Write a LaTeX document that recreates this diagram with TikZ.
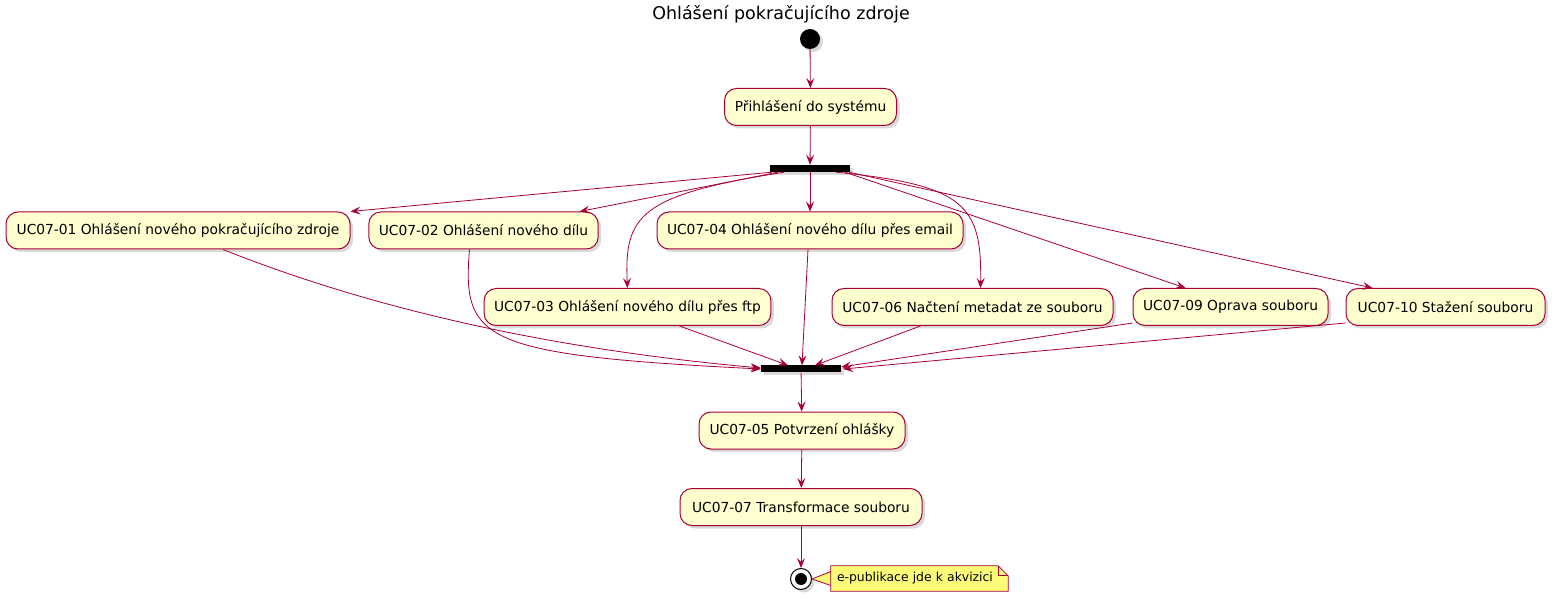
\documentclass[tikz,border=0pt]{standalone}
\usepackage{fontspec}
\setmainfont{DejaVu Sans}
\usetikzlibrary{arrows.meta, calc, shadows, backgrounds}
\definecolor{umlred}{HTML}{A80036}
\definecolor{actfill}{HTML}{FEFECE}
\definecolor{notefill}{HTML}{FBFB77}
\tikzset{
  action/.style={rectangle, rounded corners=12pt, draw=umlred, line width=1pt,
    fill=actfill, minimum height=37pt, inner xsep=10pt,
    font=\fontsize{13.8}{16}\selectfont,
    drop shadow={shadow xshift=3pt, shadow yshift=-3pt, opacity=0.3}},
  syncbar/.style={rectangle, fill=black, minimum width=80pt, minimum height=7pt,
    inner sep=0pt, drop shadow={shadow xshift=3pt, shadow yshift=-3pt, opacity=0.3}},
  initial/.style={circle, fill=black, minimum size=20pt, inner sep=0pt,
    drop shadow={shadow xshift=3pt, shadow yshift=-3pt, opacity=0.3}},
  final/.style={circle, draw=black, line width=1pt, fill=white, minimum size=21pt,
    inner sep=0pt, path picture={\fill[black] (path picture bounding box.center) circle (6pt);},
    drop shadow={shadow xshift=3pt, shadow yshift=-3pt, opacity=0.3}},
  flow/.style={-{Stealth[length=10pt, width=8pt, inset=4pt]}, draw=umlred, line width=0.8pt},
  notebox/.style={rectangle, text width=165pt, align=left, inner xsep=6pt,
    minimum height=25pt, inner ysep=0pt, font=\fontsize{12.4}{14}\selectfont},
  notefold/.style={draw=umlred, fill=notefill, line width=0.8pt}
}
\begin{document}
\begin{tikzpicture}[x=1pt, y=1pt]
\useasboundingbox (0,0) rectangle (1562,600);

% Title
\node[font=\fontsize{17.5}{20}\selectfont] (title) at (781,586) {Ohlášení pokračujícího zdroje};

% Start, login and fork
\node[initial] (start) at (810,561) {};
\node[action, minimum width=172pt] (login) at (810.5,493) {Přihlášení do systému};
\node[syncbar] (fork) at (810,431.5) {};

% Use cases, first row
\node[action, minimum width=344pt] (uc01) at (178,369.5) {UC07-01 Ohlášení nového pokračujícího zdroje};
\node[action, minimum width=227pt] (uc02) at (483.5,369.5) {UC07-02 Ohlášení nového dílu};
\node[action, minimum width=304pt] (uc04) at (810,369.5) {UC07-04 Ohlášení nového dílu přes email};

% Use cases, second row
\node[action, minimum width=285pt] (uc03) at (627.5,293) {UC07-03 Ohlášení nového dílu přes ftp};
\node[action, minimum width=281pt] (uc06) at (972.5,293) {UC07-06 Načtení metadat ze souboru};
\node[action, minimum width=195pt] (uc09) at (1230.5,293) {UC07-09 Oprava souboru};
\node[action, minimum width=199pt] (uc10) at (1445.5,293) {UC07-10 Stažení souboru};

% Join and the rest
\node[syncbar] (join) at (801,231) {};
\node[action, minimum width=206pt] (uc05) at (802,169.5) {UC07-05 Potvrzení ohlášky};
\node[action, minimum width=242pt] (uc07) at (801,93) {UC07-07 Transformace souboru};
\node[final] (stop) at (801,21) {};
\node[notebox] (note) at (919.5,21.5) {e-publikace jde k akvizici};

% Flows
\draw[flow] (start) -- (login);
\draw[flow] (login) -- (fork);
\draw[flow] ($(fork.south)+(-38,0)$) -- (uc01.north east);
\draw[flow] ($(fork.south)+(-32,0)$) -- ($(uc02.north east)+(-19,0)$);
\draw[flow] ($(fork.south)+(-26,0)$) .. controls (640,405) and (624,385) .. (uc03.north);
\draw[flow] (fork.south) -- (uc04.north);
\draw[flow] ($(fork.south)+(26,0)$) .. controls (965,415) and (982,395) .. ($(uc06.north)+(8,0)$);
\draw[flow] ($(fork.south)+(35,0)$) -- ($(uc09.north west)+(53,0)$);
\draw[flow] ($(fork.south)+(39,0)$) -- ($(uc10.north west)+(27,0)$);

\draw[flow] ($(uc01.south)+(45,0)$) .. controls (380,288) and (560,250) .. ($(join.west)+(0,1)$);
\draw[flow] ($(uc02.south)+(-14,0)$) .. controls (462,260) and (480,245) .. (join.west);
\draw[flow] ($(uc03.south)+(52,0)$) -- ($(join.north)+(-13,0)$);
\draw[flow] ($(uc04.south)+(-2,0)$) -- ($(join.north)+(1,0)$);
\draw[flow] ($(uc06.south)+(-52,0)$) -- ($(join.north)+(14,0)$);
\draw[flow] ($(uc09.south west)+(0,3)$) -- ($(join.east)+(0,2)$);
\draw[flow] ($(uc10.south west)+(0,3)$) -- ($(join.east)+(2,0)$);

\draw[flow] (join) -- (uc05);
\draw[flow] (uc05) -- (uc07);
\draw[flow] (uc07) -- (stop);

% Note
\begin{scope}[on background layer]
\draw[notefold] ([yshift=7pt]note.west) -- (stop.east) -- ([yshift=-7pt]note.west);
\draw[notefold] (note.south west) -- (note.north west) -- ([xshift=-10pt]note.north east)
  -- ([yshift=-10pt]note.north east) -- (note.south east) -- cycle;
\draw[umlred, line width=0.8pt] ([xshift=-10pt]note.north east) |- ([yshift=-10pt]note.north east);
\end{scope}

\end{tikzpicture}
\end{document}
